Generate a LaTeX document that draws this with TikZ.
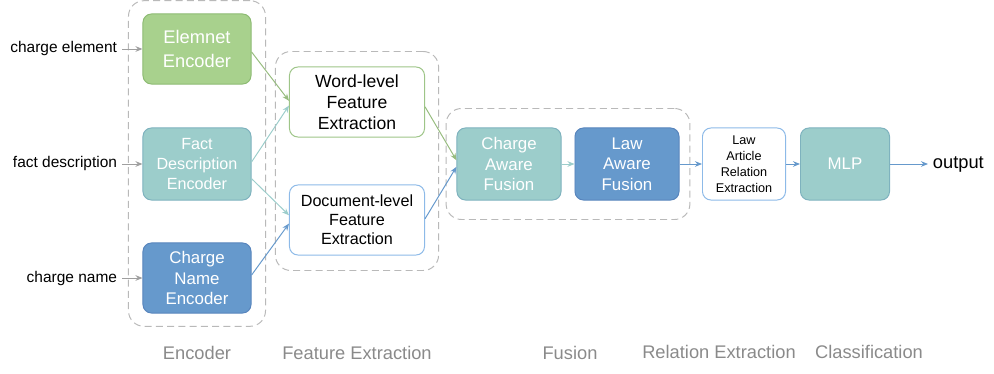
\documentclass[tikz,border=0pt]{standalone}
\usepackage{fontspec}
\setmainfont{Liberation Sans}
\usetikzlibrary{positioning,fit,arrows.meta}

\definecolor{leafgreen}{HTML}{A8D18D}
\definecolor{leafline}{HTML}{8DBB73}
\definecolor{seateal}{HTML}{9CCDCB}
\definecolor{sealine}{HTML}{7EB2BE}
\definecolor{steelblue}{HTML}{6699CC}
\definecolor{steelline}{HTML}{5885BD}
\definecolor{skyline}{HTML}{8DBAE8}
\definecolor{stagegray}{HTML}{8A8A8A}

\newcommand{\fsz}[2]{\fontsize{#1}{#2}\selectfont}

\begin{document}
\begin{tikzpicture}[
    x=0.025cm, y=-0.025cm,
    every node/.append style={font=\fsz{11}{13}},
    solidbox/.style={rectangle, rounded corners=6pt, line width=0.7pt, text=white, align=center, minimum width=2.7cm, minimum height=1.75cm},
    plainbox/.style={rectangle, rounded corners=6pt, line width=0.7pt, fill=white, text=black, align=center, minimum height=1.75cm},
    group/.style={draw=gray!55, line width=0.7pt, dash pattern=on 5pt off 3pt, rounded corners=11pt},
    arrow/.style={->, >={Stealth[length=5pt,width=4pt]}, line width=0.7pt},
    stage/.style={text=stagegray, font=\fsz{13}{15}}
]
    \useasboundingbox (0,0) rectangle (994,374);

    % Encoders
    \node[solidbox, fill=leafgreen, draw=leafline, font=\fsz{13}{17}] (element) at (197,49) {Elemnet\\Encoder};
    \node[solidbox, fill=seateal, draw=sealine, minimum height=1.8cm, font=\fsz{11.5}{14}] (fact) at (197,164) {Fact\\Description\\Encoder};
    \node[solidbox, fill=steelblue, draw=steelline, font=\fsz{12}{14.5}] (chargename) at (197,278) {Charge\\Name\\Encoder};

    % Inputs
    \node[anchor=east] (inelement) at (122,49) {charge element};
    \node[anchor=east] (infact) at (122,164) {fact description};
    \node[anchor=east] (inname) at (122,278) {charge name};

    % Feature extraction
    \node[plainbox, draw=leafline!85, minimum width=3.375cm, font=\fsz{12.5}{15}] (word) at (357,102) {Word-level\\Feature\\Extraction};
    \node[plainbox, draw=skyline, minimum width=3.375cm, font=\fsz{11.5}{13.5}] (document) at (357,220) {Document-level\\Feature\\Extraction};

    % Fusion
    \node[solidbox, fill=seateal, draw=sealine, minimum width=2.6cm, minimum height=1.8cm, font=\fsz{12}{14.5}] (chargefusion) at (509,164) {Charge\\Aware\\Fusion};
    \node[solidbox, fill=steelblue, draw=steelline, minimum width=2.6cm, minimum height=1.8cm, font=\fsz{12}{14.5}] (lawfusion) at (627,164) {Law\\Aware\\Fusion};

    % Relation extraction and classifier
    \node[plainbox, draw=skyline, minimum width=2.075cm, minimum height=1.8cm, font=\fsz{9}{11.3}] (relation) at (744,164) {Law\\Article\\Relation\\Extraction};
    \node[solidbox, fill=seateal, draw=sealine, minimum width=2.225cm, minimum height=1.8cm, font=\fsz{12}{14}] (mlp) at (845,164) {MLP};
    \node[anchor=west, font=\fsz{13}{15}] (output) at (928,164) {output};

    % Dashed groups
    \node[group, fit=(element)(chargename), inner xsep=0.35cm, inner ysep=0.32cm] (encgroup) {};
    \node[group, fit=(word)(document), inner xsep=0.34cm, inner ysep=0.375cm] (featgroup) {};
    \node[group, fit=(chargefusion)(lawfusion), inner xsep=0.26cm, inner ysep=0.475cm] (fusegroup) {};

    % Arrows
    \draw[arrow, gray!75] (inelement.east) -- (element.west);
    \draw[arrow, gray!75] (infact.east) -- (fact.west);
    \draw[arrow, gray!75] (inname.east) -- (chargename.west);

    \draw[arrow, leafgreen!90!black] (element.-3) -- (word.179);
    \draw[arrow, seateal] (fact.2) -- (word.-177);
    \draw[arrow, seateal] (fact.-15) -- (document.176);
    \draw[arrow, steelblue] (chargename.3) -- (document.-177);

    \draw[arrow, leafgreen!90!black] (word.-4) -- (chargefusion.176);
    \draw[arrow, steelblue] (document.1) -- (chargefusion.-177);

    \draw[arrow, seateal] (chargefusion) -- (lawfusion);
    \draw[arrow, steelblue] (lawfusion) -- (relation);
    \draw[arrow, steelblue] (relation) -- (mlp);
    \draw[arrow, steelblue] (mlp) -- (output);

    % Stage names
    \node[stage] at (197,353) {Encoder};
    \node[stage] at (357,353) {Feature Extraction};
    \node[stage] at (570,353) {Fusion};
    \node[stage] at (719,352) {Relation Extraction};
    \node[stage] at (869,352) {Classification};
\end{tikzpicture}
\end{document}
